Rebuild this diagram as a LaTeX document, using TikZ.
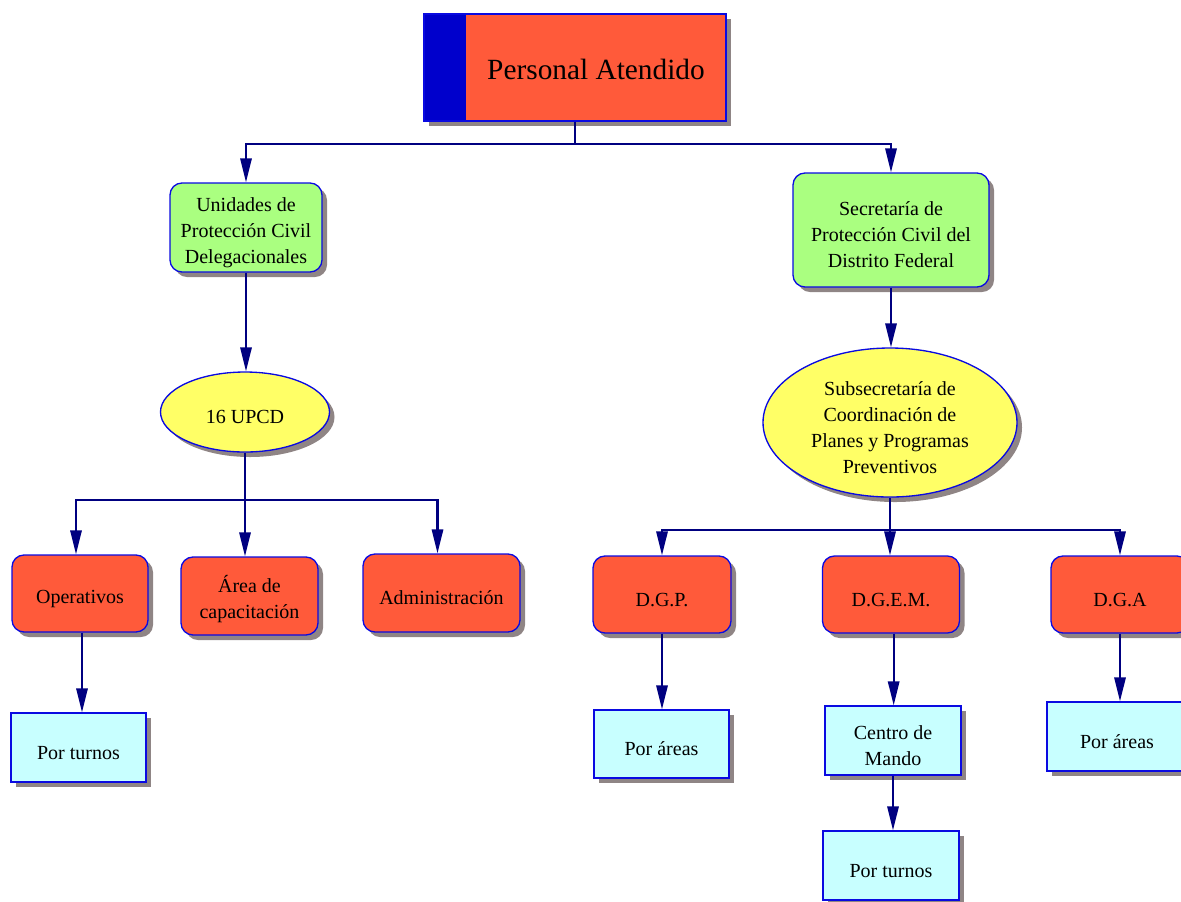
\documentclass[tikz,border=0pt]{standalone}
\usepackage{fontspec}
\setmainfont{Liberation Serif}
\usetikzlibrary{shapes.geometric,shadows,arrows.meta}
\definecolor{rojo}{RGB}{255,90,58}
\definecolor{verdeclaro}{RGB}{170,255,128}
\definecolor{amarillo}{RGB}{255,255,102}
\definecolor{celeste}{RGB}{200,255,255}
\definecolor{azulfranja}{RGB}{0,0,204}
\definecolor{borde}{RGB}{10,10,225}
\definecolor{marino}{RGB}{0,0,128}
\definecolor{sombra}{RGB}{143,133,133}
\newcommand{\alto}{\rule{0pt}{18pt}}
\begin{document}
\begin{tikzpicture}[x=0.75pt,y=-0.75pt,font=\fontsize{15}{19.5}\selectfont,
    tam/.style 2 args={minimum width=#1*0.75pt,minimum height=#2*0.75pt},
    caja/.style={draw=borde,line width=1pt,align=center,inner sep=0pt,
      execute at begin node={\alto},
      drop shadow={shadow xshift=3.75pt,shadow yshift=-3.75pt,fill=sombra,opacity=1}},
    titulo/.style={caja,fill=rojo,font=\fontsize{22}{26}\selectfont,
      path picture={\fill[azulfranja] (path picture bounding box.north west)
        rectangle ([xshift=31.5pt]path picture bounding box.south west);}},
    verde/.style={caja,rounded corners=9pt,fill=verdeclaro},
    roja/.style={caja,rounded corners=9pt,fill=rojo},
    elipse/.style={caja,ellipse,fill=amarillo},
    hoja/.style={caja,fill=celeste},
    enlace/.style={draw=marino,line width=1.6pt,-{Triangle[length=18pt,width=8.5pt]}}]
  \useasboundingbox (0,0) rectangle (1181,901);
  % nivel superior
  \node[titulo,tam={302}{107}] (pa) at (575,67.5) {\hspace*{31.5pt}Personal Atendido};
  \node[verde,tam={152}{89}] (ucpd) at (246,227.5) {\alto Unidades de\\Protección Civil\\Delegacionales};
  \node[verde,tam={196}{114}] (spc) at (891,230) {\alto Secretaría de\\Protección Civil del\\Distrito Federal};
  % elipses
  \node[elipse,tam={169}{80}] (upcd) at (245,412) {16 UPCD};
  \node[elipse,tam={254}{149}] (sub) at (890,422.5) {\alto Subsecretaría de\\Coordinación de\\Planes y Programas\\Preventivos};
  % rama izquierda
  \node[roja,tam={136}{77}] (oper) at (80,593.5) {Operativos};
  \node[roja,tam={137}{78}] (area) at (249.5,596) {\alto Área de\\capacitación};
  \node[roja,tam={157}{78}] (adm) at (441.5,593) {Administración};
  \node[hoja,tam={135}{69}] (turnosA) at (78.5,747.5) {Por turnos};
  % rama derecha
  \node[roja,tam={138}{77}] (dgp) at (662,594.5) {D.G.P.};
  \node[roja,tam={137}{77}] (dgem) at (891,594.5) {D.G.E.M.};
  \node[roja,tam={138}{77}] (dga) at (1120,594.5) {D.G.A};
  \node[hoja,tam={135}{68}] (areasA) at (661.5,744) {Por áreas};
  \node[hoja,tam={136}{69}] (mando) at (893,740.5) {\alto Centro de\\Mando};
  \node[hoja,tam={136}{69}] (turnosB) at (891,865.5) {Por turnos};
  \node[hoja,tam={140}{69}] (areasB) at (1117,736.5) {Por áreas};
  % conectores
  \draw[enlace] (pa.south) -- ++(0,22) coordinate (b1) -| (ucpd.north);
  \draw[enlace] (b1) -| (spc.north);
  \draw[enlace] (ucpd.south) -- (ucpd.south |- upcd.north);
  \draw[enlace] (spc.south) -- (spc.south |- sub.north);
  \draw[enlace] (upcd.south) -- ++(0,47) coordinate (b2) -| ([xshift=-3pt]oper.north);
  \draw[enlace] (b2) -- (b2 |- area.north);
  \draw[enlace] (b2) -| ([xshift=-3pt]adm.north);
  \draw[enlace] (sub.south) -- ++(0,32) coordinate (b3) -| (dgp.north);
  \draw[enlace] (b3) -- (b3 |- dgem.north);
  \draw[enlace] (b3) -| (dga.north);
  \draw[enlace] ([xshift=1.5pt]oper.south) -- ([xshift=1.5pt]oper.south |- turnosA.north);
  \draw[enlace] (dgp.south) -- (dgp.south |- areasA.north);
  \draw[enlace] ([xshift=2pt]dgem.south) -- ([xshift=2pt]dgem.south |- mando.north);
  \draw[enlace] (mando.south) -- (mando.south |- turnosB.north);
  \draw[enlace] (dga.south) -- (dga.south |- areasB.north);
\end{tikzpicture}
\end{document}
